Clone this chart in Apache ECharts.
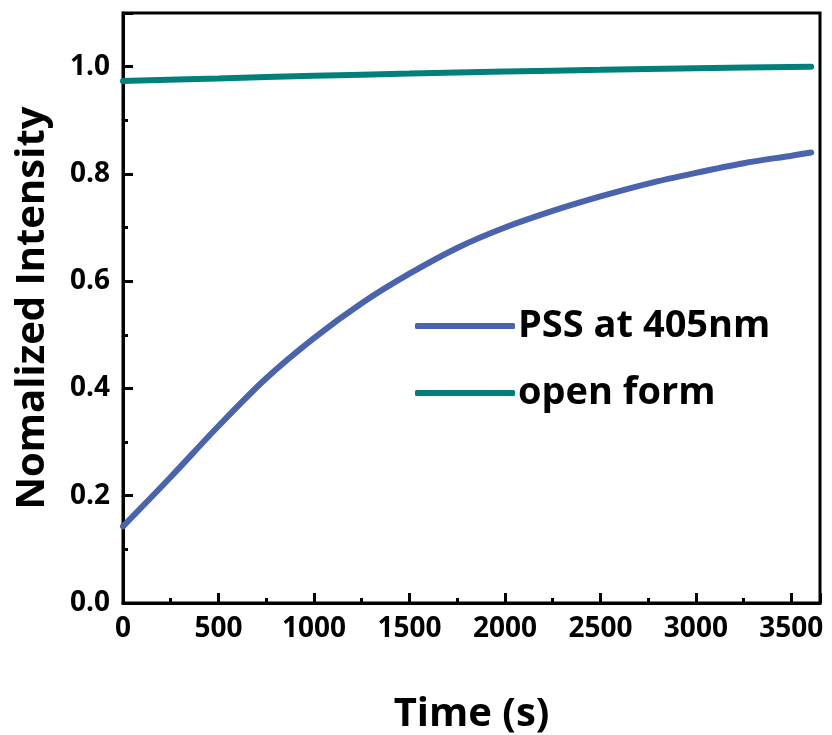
<!DOCTYPE html>
<html>
<head>
<meta charset="utf-8">
<script src="https://cdn.jsdelivr.net/npm/echarts@6/dist/echarts.min.js"></script>
<style>html,body{margin:0;padding:0;background:#fff;}#c{width:832px;height:735px;}</style>
</head>
<body>
<div id="c"></div>
<script>
const pssTime = [0, 250, 500, 750, 1000, 1250, 1500, 1750, 2000, 2250, 2500, 2750, 3000, 3250, 3500, 3604];
const pssValues = [0.143, 0.235, 0.330, 0.419, 0.494, 0.559, 0.614, 0.662, 0.700, 0.731, 0.758, 0.782, 0.802, 0.820, 0.834, 0.840];
const openTime = [0, 500, 1000, 1500, 2000, 2500, 3000, 3604];
const openValues = [0.973, 0.978, 0.983, 0.987, 0.991, 0.994, 0.997, 1.0];
const seriesNames = ['PSS at 405nm', 'open form'];
const xTitle = 'Time (s)';
const yTitle = 'Nomalized Intensity';

const FONT = 'Open Sans';
const chart = echarts.init(document.getElementById('c'));
const zip = (a, b) => a.map((t, i) => [t, b[i]]);

chart.setOption({
  animation: false,
  backgroundColor: '#fff',
  grid: { left: 123, top: 13, right: 12, bottom: 132, outerBoundsMode: 'none', containLabel: false,
    show: true, borderColor: '#000', borderWidth: 3, backgroundColor: 'transparent' },
  legend: {
    orient: 'vertical', left: 410, top: 302, itemGap: 29,
    itemWidth: 100, itemHeight: 6,
    icon: 'roundRect',
    textStyle: { fontFamily: FONT, fontWeight: 'bold', fontSize: 38, color: '#000', padding: [0,0,0,-2] },
    data: seriesNames
  },
  xAxis: {
    type: 'value', min: 0, max: 3650, interval: 500,
    name: xTitle, nameLocation: 'middle', nameGap: 92,
    nameTextStyle: { fontFamily: FONT, fontWeight: 'bold', fontSize: 40, color: '#000' },
    axisLine: { lineStyle: { color: '#000', width: 3 } },
    axisTick: { inside: true, length: 10, lineStyle: { color: '#000', width: 3 } },
    minorTick: { show: true, splitNumber: 2, length: 5, lineStyle: { color: '#000', width: 3 } },
    splitLine: { show: false },
    axisLabel: { fontFamily: FONT, fontWeight: 'bold', fontSize: 28, color: '#000', margin: 12,
      formatter: v => (v % 500 === 0 ? String(v) : '') }
  },
  yAxis: {
    type: 'value', min: 0, max: 1.1, interval: 0.2,
    name: yTitle, nameLocation: 'middle', nameGap: 70,
    nameTextStyle: { fontFamily: FONT, fontWeight: 'bold', fontSize: 40, color: '#000' },
    axisLine: { lineStyle: { color: '#000', width: 3 } },
    axisTick: { inside: true, length: 10, lineStyle: { color: '#000', width: 3 } },
    minorTick: { show: true, splitNumber: 2, length: 5, lineStyle: { color: '#000', width: 3 } },
    splitLine: { show: false },
    axisLabel: { fontFamily: FONT, fontWeight: 'bold', fontSize: 28, color: '#000', margin: 13,
      formatter: v => (Math.abs(v * 10 - Math.round(v * 10)) < 1e-6 && Math.round(v * 10) % 2 === 0 ? v.toFixed(1) : '') }
  },
  series: [
    { name: seriesNames[0], type: 'line', smooth: 0.3, showSymbol: false, color: '#4a63ad',
      lineStyle: { width: 6, cap: 'round' }, data: zip(pssTime, pssValues) },
    { name: seriesNames[1], type: 'line', smooth: 0.3, showSymbol: false, color: '#00807a',
      lineStyle: { width: 6, cap: 'round' }, data: zip(openTime, openValues) }
  ]
});
</script>
</body>
</html>
